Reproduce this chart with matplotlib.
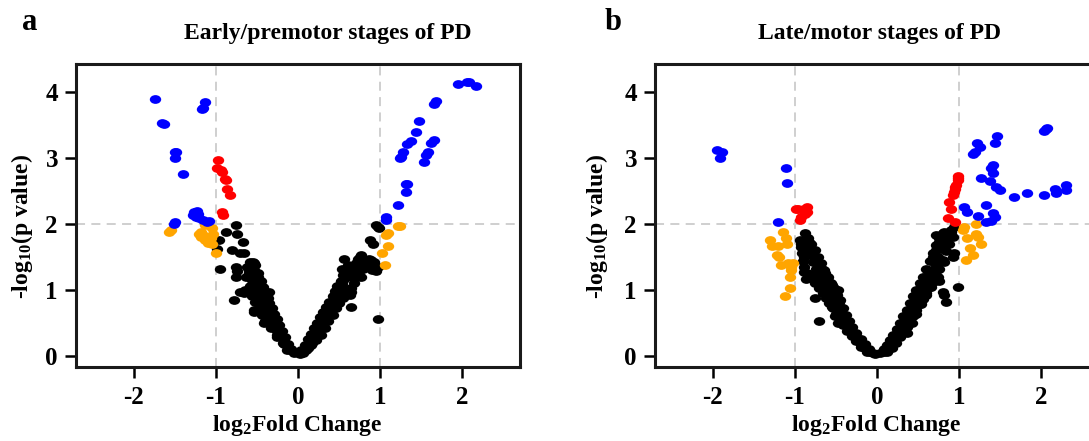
import numpy as np
import matplotlib
matplotlib.use("Agg")
import matplotlib.pyplot as plt
from matplotlib.path import Path
from matplotlib.transforms import Affine2D

plt.rcParams['font.family'] = ['Liberation Serif', 'DejaVu Serif']
plt.rcParams['font.weight'] = 'bold'
plt.rcParams['mathtext.fontset'] = 'custom'
plt.rcParams['mathtext.rm'] = 'Liberation Serif:bold'
plt.rcParams['mathtext.bf'] = 'Liberation Serif:bold'
plt.rcParams['mathtext.it'] = 'Liberation Serif:bold'
plt.rcParams['mathtext.default'] = 'rm'
plt.rcParams['axes.unicode_minus'] = False

# ---- panel a: early/premotor (log2FC, -log10 p) ----
a_up = [(1.07, 2.10), (1.07, 2.05), (1.22, 2.29), (1.31, 2.60), (1.33, 2.60), (1.31, 2.48),
        (1.24, 2.99), (1.25, 3.01), (1.28, 3.08), (1.32, 3.21), (1.38, 3.26), (1.43, 3.39),
        (1.47, 3.55), (1.53, 2.94), (1.56, 3.04), (1.58, 3.09), (1.62, 3.22), (1.65, 3.27),
        (1.65, 3.82), (1.68, 3.86), (1.95, 4.12), (2.06, 4.14), (2.08, 4.15), (2.17, 4.09)]
a_down = [(-1.74, 3.89), (-1.13, 3.85), (-1.17, 3.74), (-1.15, 3.75), (-1.65, 3.52), (-1.63, 3.51),
          (-1.50, 3.09), (-1.48, 3.09), (-1.50, 3.00), (-1.40, 2.75), (-1.26, 2.18), (-1.23, 2.20),
          (-1.22, 2.15), (-1.28, 2.14), (-1.24, 2.10), (-1.20, 2.08), (-1.16, 2.05), (-1.11, 2.03),
          (-1.08, 2.04), (-1.49, 2.02), (-1.51, 1.99)]
a_red = [(-0.97, 2.96), (-0.98, 2.84), (-0.94, 2.82), (-0.92, 2.79), (-0.89, 2.68), (-0.88, 2.66),
         (-0.86, 2.52), (-0.83, 2.44), (-0.93, 2.18), (-0.91, 2.13)]
a_orange = [(-1.55, 1.90), (-1.57, 1.88), (-1.18, 1.88), (-1.15, 1.83), (-1.13, 1.98), (-1.04, 1.94),
            (-1.03, 1.85), (-1.06, 1.78), (-1.10, 1.71), (-1.04, 1.70), (-1.00, 1.55), (-1.13, 1.75),
            (-1.20, 1.84), (-1.18, 1.80), (1.24, 1.97), (1.22, 1.97), (1.09, 1.86), (1.07, 1.83),
            (1.09, 1.66), (1.02, 1.56), (1.06, 1.38)]
a_ns = [
    # left branch
    (-0.10, 0.08), (-0.18, 0.20), (-0.26, 0.32), (-0.33, 0.42), (-0.40, 0.52), (-0.44, 0.62),
    (-0.48, 0.72), (-0.52, 0.82), (-0.56, 0.90), (-0.60, 0.97), (-0.58, 1.05), (-0.56, 1.15),
    (-0.60, 1.25), (-0.62, 1.35), (-0.58, 1.42),
    (-0.05, 0.04), (-0.12, 0.12), (-0.17, 0.24), (-0.22, 0.33), (-0.27, 0.43), (-0.31, 0.52),
    (-0.35, 0.60), (-0.38, 0.68), (-0.42, 0.76), (-0.45, 0.84), (-0.48, 0.92), (-0.50, 1.00),
    (-0.52, 1.10), (-0.50, 1.20), (-0.54, 1.30), (-0.52, 1.38),
    (-0.08, 0.10), (-0.12, 0.18), (-0.16, 0.28), (-0.20, 0.37), (-0.23, 0.46), (-0.26, 0.55),
    (-0.29, 0.63), (-0.32, 0.72), (-0.35, 0.80), (-0.37, 0.88), (-0.39, 0.96), (-0.42, 1.04),
    (-0.46, 1.12), (-0.49, 1.20),
    (-0.20, 0.28), (-0.25, 0.38), (-0.30, 0.46), (-0.36, 0.55), (-0.40, 0.63), (-0.44, 0.70),
    (-0.46, 0.78), (-0.50, 0.86), (-0.53, 0.95), (-0.44, 0.92), (-0.55, 1.02), (-0.47, 1.05),
    (-0.76, 1.98), (-0.88, 1.88), (-0.74, 1.85), (-0.96, 1.75), (-0.67, 1.73), (-0.98, 1.61),
    (-0.80, 1.60), (-0.70, 1.55), (-0.66, 1.56), (-0.95, 1.31), (-0.55, 1.42), (-0.53, 1.40),
    (-0.76, 1.35), (-0.74, 1.28), (-0.76, 1.19), (-0.49, 1.25), (-0.45, 1.14), (-0.71, 0.97),
    (-0.61, 0.97), (-0.57, 0.99), (-0.78, 0.85), (-0.55, 0.92), (-0.43, 0.99), (-0.39, 0.89),
    (-0.35, 0.97), (-0.53, 0.69), (-0.37, 0.69), (-0.41, 0.49), (-0.29, 0.54), (-0.25, 0.28),
    (-0.21, 0.38), (-0.17, 0.18), (-0.13, 0.08), (-0.60, 1.30), (-0.63, 1.20), (-0.65, 1.00),
    (-0.66, 0.95), (-0.53, 0.66),
    # right branch
    (0.02, 0.02), (0.10, 0.08), (0.16, 0.16), (0.22, 0.24), (0.28, 0.32), (0.33, 0.42),
    (0.37, 0.52), (0.42, 0.62), (0.46, 0.72), (0.50, 0.80), (0.55, 0.88), (0.60, 0.96),
    (0.65, 1.02), (0.68, 1.10), (0.72, 1.20), (0.76, 1.30),
    (0.06, 0.04), (0.12, 0.12), (0.17, 0.20), (0.21, 0.28), (0.25, 0.36), (0.29, 0.44),
    (0.32, 0.52), (0.35, 0.60), (0.38, 0.68), (0.41, 0.76), (0.44, 0.84), (0.47, 0.92),
    (0.50, 1.00), (0.53, 1.08), (0.56, 1.16), (0.60, 1.25),
    (0.04, 0.08), (0.08, 0.16), (0.12, 0.25), (0.16, 0.33), (0.20, 0.42), (0.23, 0.50),
    (0.27, 0.58), (0.30, 0.66), (0.34, 0.74), (0.38, 0.82), (0.42, 0.90), (0.45, 0.98),
    (0.48, 1.06), (0.52, 1.14), (0.55, 1.22),
    (0.14, 0.18), (0.19, 0.26), (0.24, 0.34), (0.27, 0.42), (0.31, 0.50), (0.34, 0.56),
    (0.37, 0.64), (0.40, 0.72), (0.43, 0.80), (0.48, 0.86), (0.52, 0.94), (0.55, 1.00),
    (0.95, 1.98), (0.99, 1.93), (0.97, 1.95), (0.87, 1.75), (0.91, 1.70), (0.77, 1.52),
    (0.73, 1.47), (0.81, 1.45), (0.85, 1.40), (0.71, 1.40), (0.89, 1.45), (0.93, 1.37),
    (0.97, 1.35), (0.79, 1.32), (0.65, 1.32), (0.56, 1.47), (0.61, 1.37), (0.67, 1.19),
    (0.77, 1.19), (0.52, 1.12), (0.65, 0.97), (0.63, 0.92), (0.65, 0.74), (0.97, 0.55),
    (0.75, 1.50), (0.80, 1.40), (0.84, 1.35), (0.90, 1.30), (0.95, 1.28), (0.70, 1.30),
    (0.75, 1.38), (0.86, 1.47), (0.92, 1.42), (0.68, 1.25), (0.62, 1.28), (0.58, 1.20),
    (0.54, 1.32),
]

# ---- panel b: late/motor ----
b_up = [(2.05, 3.43), (2.03, 3.40), (2.07, 3.45), (1.22, 3.23), (1.25, 3.16), (1.19, 3.09), (1.17, 3.05),
        (1.46, 3.33), (1.43, 3.22), (1.41, 2.89), (1.39, 2.84), (1.41, 2.77), (1.26, 2.69),
        (1.37, 2.65), (1.45, 2.55), (1.50, 2.51), (1.67, 2.41), (1.82, 2.46), (2.03, 2.44),
        (2.16, 2.53), (2.18, 2.47), (2.30, 2.59), (2.30, 2.51), (1.06, 2.25), (1.10, 2.18),
        (1.32, 2.28), (1.23, 2.12), (1.41, 2.16), (1.43, 2.10), (1.33, 2.02), (1.39, 2.04)]
b_down = [(-1.95, 3.11), (-1.89, 3.09), (-1.91, 2.99), (-1.11, 2.85), (-1.10, 2.62), (-1.20, 2.03)]
b_red = [(-0.96, 2.22), (-0.89, 2.23), (-0.85, 2.25), (-0.88, 2.15), (-0.92, 2.10), (-0.94, 2.05),
         (-0.85, 2.18), (-0.99, 2.22), (0.99, 2.72), (0.98, 2.66), (0.96, 2.58), (0.95, 2.53),
         (0.94, 2.48), (0.92, 2.43), (0.88, 2.33), (0.90, 2.23), (0.86, 2.08), (0.95, 2.03),
         (0.99, 2.69), (0.95, 2.55)]
b_orange = [(-1.14, 1.88), (-1.30, 1.75), (-1.28, 1.67), (-1.21, 1.66), (-1.11, 1.78), (-1.09, 1.69),
            (-1.22, 1.52), (-1.19, 1.49), (-1.17, 1.37), (-1.08, 1.41), (-1.02, 1.40), (-1.04, 1.35),
            (-1.04, 1.30), (-1.06, 1.19), (-1.06, 1.02), (-1.12, 0.90), (1.06, 1.95), (1.04, 1.90),
            (1.21, 1.99), (1.21, 1.85), (1.23, 1.80), (1.10, 1.78), (1.27, 1.69), (1.13, 1.63),
            (1.17, 1.53), (1.08, 1.45)]
b_ns = [
    # left branch
    (-0.05, 0.04), (-0.10, 0.10), (-0.15, 0.18), (-0.20, 0.26), (-0.25, 0.34), (-0.30, 0.44),
    (-0.34, 0.52), (-0.38, 0.62), (-0.42, 0.72), (-0.46, 0.82), (-0.49, 0.92), (-0.52, 1.02),
    (-0.56, 1.10), (-0.60, 1.20), (-0.64, 1.30), (-0.68, 1.40), (-0.72, 1.50), (-0.76, 1.60),
    (-0.80, 1.70), (-0.84, 1.78),
    (-0.08, 0.05), (-0.14, 0.12), (-0.20, 0.20), (-0.25, 0.28), (-0.30, 0.36), (-0.35, 0.45),
    (-0.39, 0.54), (-0.43, 0.63), (-0.47, 0.72), (-0.51, 0.80), (-0.55, 0.88), (-0.58, 0.96),
    (-0.62, 1.04), (-0.66, 1.12), (-0.70, 1.22), (-0.74, 1.32), (-0.78, 1.42), (-0.82, 1.52),
    (-0.86, 1.62), (-0.88, 1.72),
    (-0.12, 0.06), (-0.19, 0.14), (-0.25, 0.22), (-0.31, 0.30), (-0.36, 0.38), (-0.41, 0.46),
    (-0.45, 0.56), (-0.50, 0.64), (-0.54, 0.72), (-0.58, 0.80), (-0.62, 0.88), (-0.66, 0.95),
    (-0.70, 1.02), (-0.75, 1.10), (-0.80, 1.18), (-0.85, 1.25), (-0.89, 1.34), (-0.90, 1.44),
    (-0.91, 1.55), (-0.93, 1.65),
    (-0.88, 1.86), (-0.94, 1.76), (-0.92, 1.70), (-0.88, 1.65), (-0.83, 1.72), (-0.81, 1.57),
    (-0.75, 1.50), (-0.89, 1.50), (-0.71, 1.40), (-0.67, 1.32), (-0.89, 1.27), (-0.86, 1.17),
    (-0.79, 1.22), (-0.75, 1.14), (-0.69, 1.19), (-0.63, 1.25), (-0.59, 1.14), (-0.55, 1.07),
    (-0.47, 0.99), (-0.65, 0.99), (-0.75, 0.87), (-0.59, 0.87), (-0.45, 0.84), (-0.55, 0.74),
    (-0.41, 0.72), (-0.51, 0.61), (-0.71, 0.53), (-0.39, 0.54), (-0.47, 0.49), (-0.35, 0.39),
    (-0.27, 0.28), (-0.19, 0.18), (-0.13, 0.11), (-0.02, 0.02),
    # right branch
    (0.04, 0.04), (0.08, 0.10), (0.12, 0.17), (0.16, 0.24), (0.20, 0.32), (0.24, 0.40),
    (0.28, 0.50), (0.32, 0.60), (0.36, 0.70), (0.40, 0.80), (0.44, 0.90), (0.48, 1.00),
    (0.52, 1.10), (0.56, 1.20), (0.60, 1.32), (0.64, 1.44), (0.68, 1.56), (0.72, 1.68),
    (0.76, 1.78), (0.80, 1.86),
    (0.08, 0.05), (0.13, 0.12), (0.18, 0.20), (0.22, 0.28), (0.26, 0.36), (0.30, 0.44),
    (0.34, 0.52), (0.38, 0.60), (0.42, 0.70), (0.46, 0.80), (0.50, 0.90), (0.54, 0.98),
    (0.58, 1.08), (0.62, 1.18), (0.66, 1.28), (0.70, 1.40), (0.74, 1.50), (0.78, 1.62),
    (0.82, 1.72), (0.86, 1.82), (0.90, 1.88),
    (0.12, 0.05), (0.18, 0.12), (0.23, 0.20), (0.28, 0.28), (0.32, 0.36), (0.36, 0.44),
    (0.40, 0.52), (0.44, 0.60), (0.48, 0.70), (0.52, 0.78), (0.56, 0.86), (0.60, 0.95),
    (0.64, 1.04), (0.68, 1.12), (0.72, 1.22), (0.76, 1.32), (0.80, 1.45), (0.84, 1.58),
    (0.88, 1.70), (0.92, 1.80),
    (0.94, 1.95), (0.90, 1.90), (0.82, 1.88), (0.84, 1.80), (0.72, 1.83), (0.76, 1.72),
    (0.94, 1.55), (0.92, 1.50), (0.72, 1.60), (0.68, 1.50), (0.82, 1.42), (0.72, 1.35),
    (0.74, 1.19), (0.76, 1.14), (0.98, 1.04), (0.80, 0.97), (0.82, 0.92), (0.84, 0.82),
    (0.62, 1.30), (0.58, 1.19), (0.54, 1.07), (0.66, 1.04), (0.48, 0.94), (0.60, 0.92),
    (0.42, 0.79), (0.54, 0.79), (0.36, 0.64), (0.48, 0.64), (0.30, 0.49), (0.42, 0.49),
    (0.24, 0.34), (0.36, 0.34), (0.16, 0.21), (0.08, 0.08),
]

panels = [
    dict(tag="a", title="Early/premotor stages of PD", ns=a_ns, orange=a_orange, red=a_red,
         up=a_up, down=a_down),
    dict(tag="b", title="Late/motor stages of PD", ns=b_ns, orange=b_orange, red=b_red,
         up=b_up, down=b_down),
]

# layout in pixels (figure is 1089 x 441)
W, H = 1089, 441
ax_left = [76, 655]
ax_w, ax_top, ax_bot = 444, 64, 367
tag_x = [30, 613]
title_x = [328, 880]
ylab_x = [22, 597]

ell = Path.unit_circle().transformed(Affine2D().scale(1.3, 1.0))

fig = plt.figure(figsize=(W / 100, H / 100), dpi=100)

for i, p in enumerate(panels):
    ax = fig.add_axes([ax_left[i] / W, (H - ax_bot) / H, ax_w / W, (ax_bot - ax_top) / H])
    ax.set_xlim(-2.7, 2.7)
    ax.set_ylim(-0.17, 4.42)

    for v in (-1, 1):
        ax.axvline(v, color="#cccccc", lw=1.3, ls=(0, (5, 3.5)), zorder=1)
    ax.axhline(2, color="#cccccc", lw=1.3, ls=(0, (5, 3.5)), zorder=1)

    for key, col in [("ns", "black"), ("orange", "#ffa500"), ("red", "#ff0000"),
                     ("up", "#0000ff"), ("down", "#0000ff")]:
        pts = np.array(p[key])
        ax.plot(pts[:, 0], pts[:, 1], ls="none", marker=ell, ms=8.2, color=col,
                mec="none", zorder=3)

    ax.set_xticks([-2, -1, 0, 1, 2])
    ax.set_yticks([0, 1, 2, 3, 4])
    ax.tick_params(axis="both", direction="out", length=8, width=1.8, labelsize=18,
                   color="black")
    ax.tick_params(axis="x", pad=6)
    ax.tick_params(axis="y", pad=5)
    for lab in ax.get_xticklabels() + ax.get_yticklabels():
        lab.set_fontweight("bold")
    for s in ax.spines.values():
        s.set_linewidth(2.2)
        s.set_color("#1a1a1a")

    fig.text(title_x[i] / W, 1 - 33 / H, p["title"], ha="center", va="center",
             fontsize=17, fontweight="bold")
    fig.text(tag_x[i] / W, 1 - 22 / H, p["tag"], ha="center", va="center",
             fontsize=22, fontweight="bold")
    fig.text(ylab_x[i] / W, 1 - 227 / H, r"-log$_{10}$(p value)", rotation=90,
             ha="center", va="center", fontsize=17, fontweight="bold")
    fig.text((ax_left[i] + 221) / W, 1 - 425 / H, r"log$_{2}$Fold Change",
             ha="center", va="center", fontsize=17, fontweight="bold")

fig.savefig("out.png", dpi=100)
